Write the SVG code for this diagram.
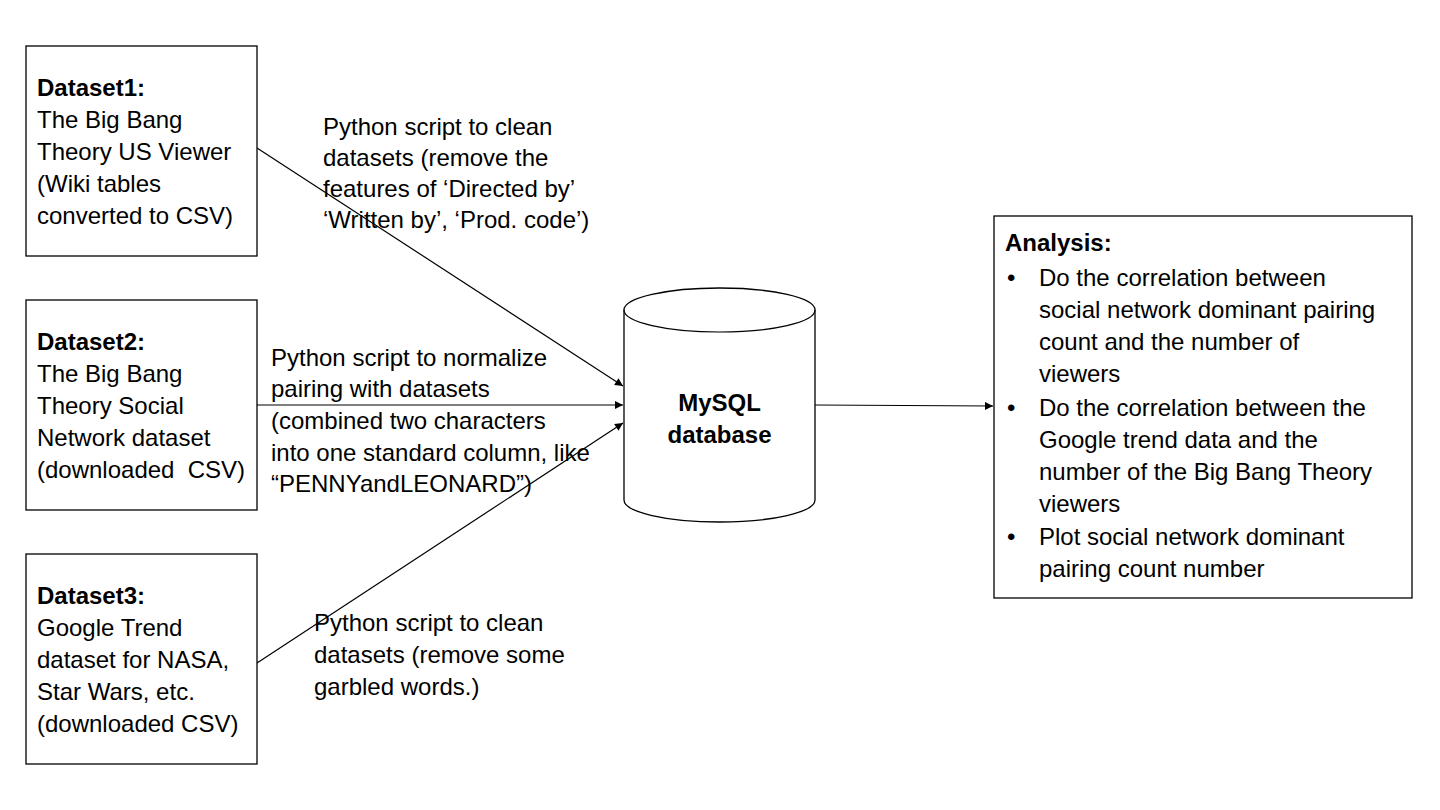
<svg xmlns="http://www.w3.org/2000/svg" width="1440" height="810" viewBox="0 0 1440 810">
<style>
.box{fill:#fff;stroke:#000;stroke-width:1.3}
.t{font-family:"Liberation Sans",Arial,sans-serif;font-size:24px;fill:#000}
.b{font-weight:bold}
.c{stroke:#000;stroke-width:1.2;fill:none}
</style>
<defs>
<marker id="ah" viewBox="0 0 10 10" refX="10" refY="5" markerWidth="10" markerHeight="8" markerUnits="userSpaceOnUse" orient="auto">
<path d="M0,0 L10,5 L0,10 z" fill="#000"/>
</marker>
</defs>
<rect width="1440" height="810" fill="#fff"/>
<g id="connectors">
<line class="c" x1="257" y1="148" x2="623" y2="386" marker-end="url(#ah)"/>
<line class="c" x1="257" y1="405" x2="623" y2="405" marker-end="url(#ah)"/>
<line class="c" x1="257" y1="663" x2="623" y2="423" marker-end="url(#ah)"/>
<line class="c" x1="815" y1="405" x2="993" y2="406" marker-end="url(#ah)"/>
</g>
<g id="dataset1">
<rect class="box" x="26" y="46" width="231" height="210"/>
<text class="t" x="37" y="96"><tspan class="b">Dataset1:</tspan><tspan x="37" y="128">The Big Bang</tspan><tspan x="37" y="160">Theory US Viewer</tspan><tspan x="37" y="192">(Wiki tables</tspan><tspan x="37" y="224">converted to CSV)</tspan></text>
</g>
<g id="dataset2">
<rect class="box" x="26" y="300" width="231" height="210"/>
<text class="t" x="37" y="350" xml:space="preserve"><tspan class="b">Dataset2:</tspan><tspan x="37" y="382">The Big Bang</tspan><tspan x="37" y="414">Theory Social</tspan><tspan x="37" y="446">Network dataset</tspan><tspan x="37" y="478">(downloaded  CSV)</tspan></text>
</g>
<g id="dataset3">
<rect class="box" x="26" y="554" width="231" height="210"/>
<text class="t" x="37" y="604"><tspan class="b">Dataset3:</tspan><tspan x="37" y="636">Google Trend</tspan><tspan x="37" y="668">dataset for NASA,</tspan><tspan x="37" y="700">Star Wars, etc.</tspan><tspan x="37" y="732">(downloaded CSV)</tspan></text>
</g>
<g id="label1">
<text class="t" x="323" y="135">Python script to clean<tspan x="323" y="166">datasets (remove the</tspan><tspan x="323" y="197">features of ‘Directed by’</tspan><tspan x="323" y="228">‘Written by’, ‘Prod. code’)</tspan></text>
</g>
<g id="label2">
<text class="t" x="271" y="366">Python script to normalize<tspan x="271" y="397">pairing with datasets</tspan><tspan x="271" y="429">(combined two characters</tspan><tspan x="271" y="461">into one standard column, like</tspan><tspan x="271" y="492">“PENNYandLEONARD”)</tspan></text>
</g>
<g id="label3">
<text class="t" x="314" y="631">Python script to clean<tspan x="314" y="663">datasets (remove some</tspan><tspan x="314" y="695">garbled words.)</tspan></text>
</g>
<g id="mysql">
<path class="box" d="M624,310 L624,500 A95.5,22 0 0 0 815,500 L815,310 A95.5,22 0 0 0 624,310 Z"/>
<path class="c" d="M624,310 A95.5,22 0 0 0 815,310" stroke-width="1.3"/>
<text class="t b" x="719.5" y="411" text-anchor="middle">MySQL</text>
<text class="t b" x="719.5" y="443" text-anchor="middle">database</text>
</g>
<g id="analysis">
<rect class="box" x="994" y="216" width="418" height="382"/>
<text class="t b" x="1005" y="251">Analysis:</text>
<text class="t" x="1007" y="286">•</text>
<text class="t" x="1039" y="286">Do the correlation between<tspan x="1039" y="318">social network dominant pairing</tspan><tspan x="1039" y="350">count and the number of</tspan><tspan x="1039" y="382">viewers</tspan></text>
<text class="t" x="1007" y="416">•</text>
<text class="t" x="1039" y="416">Do the correlation between the<tspan x="1039" y="448">Google trend data and the</tspan><tspan x="1039" y="480">number of the Big Bang Theory</tspan><tspan x="1039" y="512">viewers</tspan></text>
<text class="t" x="1007" y="545">•</text>
<text class="t" x="1039" y="545">Plot social network dominant<tspan x="1039" y="577">pairing count number</tspan></text>
</g>
</svg>
